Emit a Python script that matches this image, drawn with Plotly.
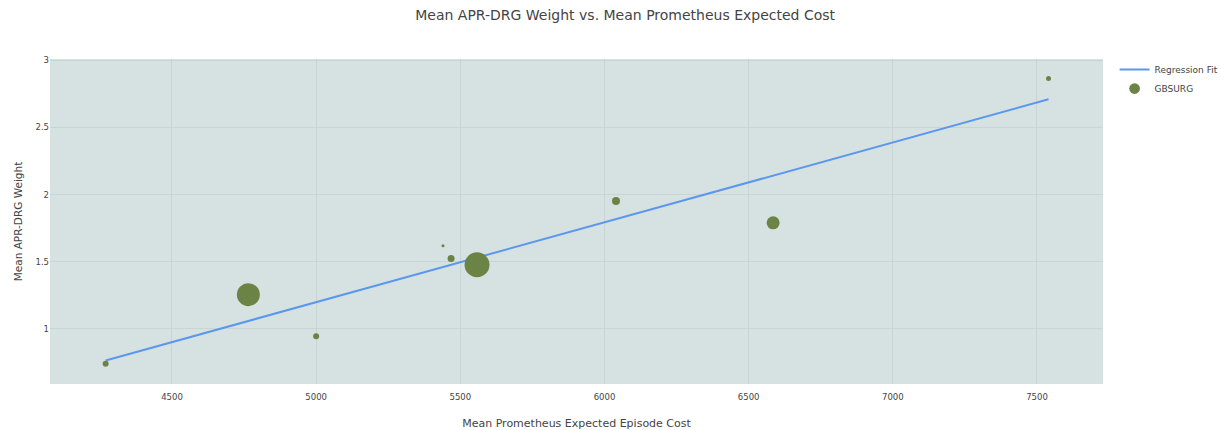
import plotly.graph_objects as go

# Mean expected episode cost vs. mean APR-DRG weight per group
cost = [4270, 4765, 5000, 5440, 5468, 5558, 6040, 6585, 7540]
drg_weight = [0.74, 1.255, 0.945, 1.62, 1.525, 1.478, 1.952, 1.79, 2.865]
episodes = [6, 23, 6, 3, 7, 25, 8, 13, 5]

# Fitted regression line endpoints
fit_x = [4270, 7540]
fit_y = [0.765, 2.71]

font_family = "Verdana, DejaVu Sans, sans-serif"

fig = go.Figure()
fig.add_trace(go.Scatter(
    x=fit_x, y=fit_y, mode="lines", name="Regression Fit",
    line=dict(color="#5b97ee", width=2),
))
fig.add_trace(go.Scatter(
    x=cost, y=drg_weight, mode="markers", name="GBSURG",
    marker=dict(size=episodes, sizemode="diameter", color="#6b8445",
                opacity=1, line=dict(width=0)),
))

fig.update_layout(
    width=1221, height=430,
    margin=dict(l=50, r=118, t=59, b=46, autoexpand=False),
    paper_bgcolor="white",
    plot_bgcolor="#d6e2e1",
    font=dict(family=font_family, size=9, color="#444"),
    title=dict(text="Mean APR-DRG Weight vs. Mean Prometheus Expected Cost",
               x=0.512, xanchor="center", y=0.965, yanchor="middle",
               font=dict(size=14, color="#444")),
    legend=dict(x=1.011, y=1.012, xanchor="left", yanchor="top",
                font=dict(size=9), tracegroupgap=0),
    xaxis=dict(title=dict(text="Mean Prometheus Expected Episode Cost",
                          font=dict(size=11), standoff=20),
               range=[4077, 7729], tickvals=[4500, 5000, 5500, 6000, 6500, 7000, 7500],
               tickfont=dict(size=8.5), ticklabelstandoff=6,
               gridcolor="#c9d5d4", zeroline=False, showline=False),
    yaxis=dict(title=dict(text="Mean APR-DRG Weight", font=dict(size=10.5), standoff=10),
               range=[0.59, 3.01], tickvals=[1, 1.5, 2, 2.5, 3],
               tickfont=dict(size=8.5),
               gridcolor="#c9d5d4", zeroline=False, showline=False),
)

fig.write_html("out.html")
